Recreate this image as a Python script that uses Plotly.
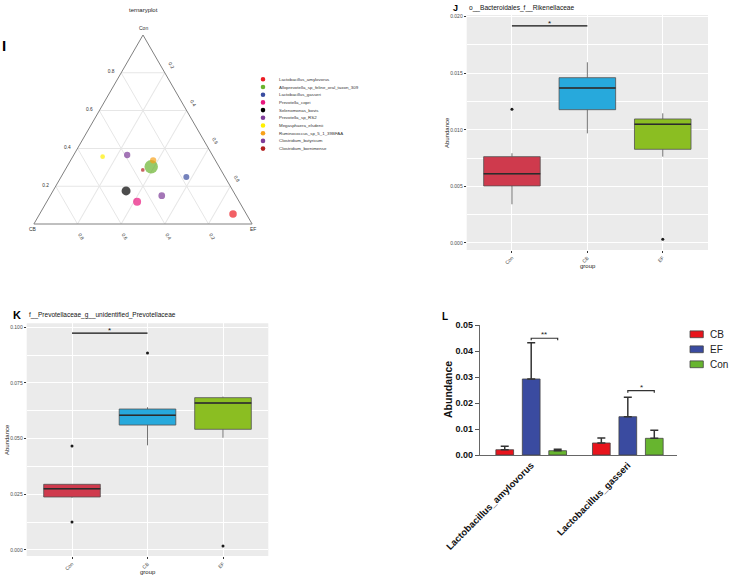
import plotly.graph_objects as go

W, H = 730, 577
def px(x): return x / W
def py(y): return 1 - y / H

FONT = "Liberation Sans, Arial, sans-serif"

# ---------------- Panel I : ternary data ----------------
tern_species = ["Lactobacillus_amylovorus", "Alloprevotella_sp_feline_oral_taxon_309",
                "Lactobacillus_gasseri", "Prevotella_copri", "Selenomonas_bovis",
                "Prevotella_sp_RS2", "Megasphaera_elsdenii", "Ruminococcus_sp_5_1_39BFAA",
                "Clostridium_butyricum", "Clostridium_bornimense"]
tern_con = [0.053, 0.303, 0.249, 0.118, 0.175, 0.365, 0.356, 0.337, 0.150, 0.286]
tern_cb  = [0.061, 0.311, 0.177, 0.468, 0.490, 0.390, 0.507, 0.285, 0.339, 0.358]
tern_ef  = [0.886, 0.386, 0.574, 0.414, 0.335, 0.245, 0.137, 0.378, 0.511, 0.356]
tern_size = [7.5, 13.5, 6, 8, 9, 6.3, 4.7, 6.3, 6.7, 3.7]
tern_colors = ["#EC1C24", "#6AB42D", "#3A4DA0", "#E8177D", "#000000",
               "#7E3C98", "#FFF000", "#F7A11A", "#7E3C98", "#B2201F"]
tern_ticks = [0.2, 0.4, 0.6, 0.8]
tern_vertices = ["Con", "CB", "EF"]

# ---------------- Panel J : Rikenellaceae ----------------
box_groups = ["Con", "CB", "EF"]
box_colors = ["#CF3A4D", "#27A9DC", "#8BBE22"]
j_q1     = [0.00504, 0.01178, 0.00828]
j_median = [0.00612, 0.01370, 0.01049]
j_q3     = [0.00763, 0.01461, 0.01096]
j_low    = [0.00342, 0.00969, 0.00763]
j_high   = [0.00793, 0.01597, 0.01146]
j_out_group = [0, 2]
j_out_val   = [0.01182, 0.00033]
j_sig_level = 0.01918
j_ticks = [0.000, 0.005, 0.010, 0.015, 0.020]

# ---------------- Panel K : Prevotellaceae ----------------
k_q1     = [0.0238, 0.0561, 0.0542]
k_median = [0.02753, 0.0605, 0.0660]
k_q3     = [0.0295, 0.0633, 0.0684]
k_low    = [0.0235, 0.0470, 0.0504]
k_high   = [0.0295, 0.0641, 0.0689]
k_out_group = [0, 0, 1, 2]
k_out_val   = [0.0467, 0.0126, 0.0885, 0.0018]
k_sig_level = 0.0974
k_ticks = [0.000, 0.025, 0.050, 0.075, 0.100]

# ---------------- Panel L : Lactobacillus bars ----------------
l_species = ["Lactobacillus_amylovorus", "Lactobacillus_gasseri"]
l_groups = ["CB", "EF", "Con"]
l_colors = ["#E8141C", "#3A4BA0", "#67B52F"]
l_mean = {"CB": [0.00204, 0.00463], "EF": [0.0293, 0.01477], "Con": [0.00166, 0.00643]}
l_top  = {"CB": [0.00335, 0.00655], "EF": [0.0433, 0.02224], "Con": [0.0022, 0.00951]}
l_sig = [("**", 0.0450), ("*", 0.0248)]
l_ticks = [0.00, 0.01, 0.02, 0.03, 0.04, 0.05]

fig = go.Figure()

# ---- ternary ----
fig.add_trace(go.Scatterternary(
    a=tern_con, b=tern_cb, c=tern_ef, mode="markers",
    marker=dict(size=tern_size, color=tern_colors, line=dict(width=0)),
    text=tern_species, hoverinfo="text", showlegend=False))

tern_axis = dict(tickmode="array", tickvals=tern_ticks, ticktext=[f"{v:.1f}" for v in tern_ticks],
                 tickfont=dict(size=4.8, color="#333", family=FONT), linecolor="#808080",
                 linewidth=1, gridcolor="#E6E6E6", gridwidth=0.6, showgrid=True,
                 ticks="outside", ticklen=5, tickcolor="rgba(0,0,0,0)", min=0,
                 title=dict(text=""))
TX0, TX1, TY_TOP, TY_BOT = 33, 253, 35, 224
fig.update_layout(ternary=dict(
    domain=dict(x=[px(TX0), px(TX1)], y=[py(TY_BOT), py(TY_TOP)]),
    bgcolor="white", sum=1,
    aaxis=dict(tern_axis),
    baxis=dict(tern_axis, tickangle=60),
    caxis=dict(tern_axis, tickangle=60),
))

shapes = []
annotations = []

# vertex labels of the ternary
for name, (vx, vy) in zip(tern_vertices, [((TX0 + TX1) / 2, TY_TOP - 7), (TX0, TY_BOT + 5), (TX1, TY_BOT + 5)]):
    annotations.append(dict(text=name, x=px(vx), y=py(vy), xref="paper", yref="paper",
                            xanchor="center", yanchor="middle", showarrow=False,
                            font=dict(size=5, color="#333", family=FONT)))

# ternary legend (manual, compact)
for i, (name, col) in enumerate(zip(tern_species, tern_colors)):
    yc = 79.3 + i * 7.7
    r = 2.3
    shapes.append(dict(type="circle", xref="paper", yref="paper",
                       x0=px(263 - r), x1=px(263 + r), y0=py(yc + r), y1=py(yc - r),
                       fillcolor=col, line=dict(width=0)))
    annotations.append(dict(text=name, x=px(277), y=py(yc), xref="paper", yref="paper",
                            xanchor="left", yanchor="middle", showarrow=False,
                            font=dict(size=4.4, color="#333", family=FONT)))

annotations.append(dict(text="ternaryplot", x=px(143), y=py(10), xref="paper", yref="paper",
                        xanchor="center", yanchor="middle", showarrow=False,
                        font=dict(size=6, color="#222", family=FONT)))
annotations.append(dict(text="<b>I</b>", x=0, y=py(46), xref="paper", yref="paper",
                        xanchor="left", yanchor="middle", showarrow=False,
                        font=dict(size=15, color="#000", family=FONT)))

# ---- box panels ----
def add_box_panel(xa, ya, q1, med, q3, lo, hi, og, ov, sig_level):
    for i in range(len(box_groups)):
        fig.add_trace(go.Box(x=[i], q1=[q1[i]], median=[med[i]], q3=[q3[i]],
                             lowerfence=[lo[i]], upperfence=[hi[i]], width=0.75,
                             whiskerwidth=0, fillcolor=box_colors[i],
                             line=dict(color="#505050", width=0.8),
                             xaxis=xa, yaxis=ya, hoverinfo="skip", showlegend=False))
        fig.add_trace(go.Scatter(x=[i - 0.375, i + 0.375], y=[med[i], med[i]], mode="lines",
                                 line=dict(color="#2b2b2b", width=1.4),
                                 xaxis=xa, yaxis=ya, hoverinfo="skip", showlegend=False))
    fig.add_trace(go.Scatter(x=og, y=ov, mode="markers",
                             marker=dict(size=3, color="#1a1a1a"),
                             xaxis=xa, yaxis=ya, hoverinfo="skip", showlegend=False))
    fig.add_trace(go.Scatter(x=[0, 1], y=[sig_level, sig_level], mode="lines",
                             line=dict(color="#111", width=1.3),
                             xaxis=xa, yaxis=ya, hoverinfo="skip", showlegend=False))
    annotations.append(dict(text="*", x=0.5, y=sig_level, xref=xa, yref=ya, xanchor="center",
                            yanchor="bottom", yshift=-4, showarrow=False,
                            font=dict(size=8, color="#111", family=FONT)))
    shapes.append(dict(type="rect", xref=f"{xa} domain", yref=f"{ya} domain",
                       x0=0, x1=1, y0=0, y1=1, fillcolor="#EBEBEB", line=dict(width=0),
                       layer="below"))

add_box_panel("x", "y", j_q1, j_median, j_q3, j_low, j_high, j_out_group, j_out_val, j_sig_level)
add_box_panel("x2", "y2", k_q1, k_median, k_q3, k_low, k_high, k_out_group, k_out_val, k_sig_level)

box_xaxis = dict(range=[-0.6, 2.6], tickmode="array", tickvals=[0, 1, 2], ticktext=box_groups,
                 tickangle=-45, ticks="outside", ticklen=2, tickcolor="#333",
                 tickfont=dict(size=5, color="#4D4D4D", family=FONT),
                 showgrid=True, gridcolor="white", gridwidth=1, zeroline=False, showline=False)
def box_yaxis(rng, ticks, minor_dt):
    return dict(range=rng, tickmode="array", tickvals=ticks, ticktext=[f"{v:.3f}" for v in ticks],
                ticks="outside", ticklen=2, tickcolor="#333",
                tickfont=dict(size=5, color="#4D4D4D", family=FONT),
                showgrid=True, gridcolor="white", gridwidth=1, zeroline=False, showline=False,
                minor=dict(dtick=minor_dt, tick0=0, showgrid=True, gridcolor="white",
                           gridwidth=0.5, ticks=""))

fig.update_layout(
    xaxis=dict(box_xaxis, domain=[px(466.7), px(708)], anchor="y"),
    yaxis=dict(box_yaxis([-0.00062, 0.02015], j_ticks, 0.0025), domain=[py(250), py(15)], anchor="x"),
    xaxis2=dict(box_xaxis, domain=[px(26.7), px(268.3)], anchor="y2"),
    yaxis2=dict(box_yaxis([-0.0027, 0.1018], k_ticks, 0.0125), domain=[py(556), py(323.3)], anchor="x2"),
)

# panel titles J / K
annotations += [
    dict(text="<b>J</b>", x=px(451), y=py(7.5), xref="paper", yref="paper", xanchor="left",
         yanchor="middle", showarrow=False, font=dict(size=9, color="#000", family=FONT)),
    dict(text="o__Bacteroidales_f__Rikenellaceae", x=px(466.5), y=py(7.5), xref="paper", yref="paper",
         xanchor="left", yanchor="middle", showarrow=False, font=dict(size=6.6, color="#111", family=FONT)),
    dict(text="Abundance", x=px(446.5), y=py(132.5), xref="paper", yref="paper", textangle=-90,
         xanchor="center", yanchor="middle", showarrow=False, font=dict(size=6, color="#222", family=FONT)),
    dict(text="group", x=px(587.7), y=py(266), xref="paper", yref="paper",
         xanchor="center", yanchor="middle", showarrow=False, font=dict(size=6, color="#222", family=FONT)),
    dict(text="<b>K</b>", x=px(11), y=py(315), xref="paper", yref="paper", xanchor="left",
         yanchor="middle", showarrow=False, font=dict(size=11, color="#000", family=FONT)),
    dict(text="f__Prevotellaceae_g__unidentified_Prevotellaceae", x=px(26.5), y=py(315), xref="paper",
         yref="paper", xanchor="left", yanchor="middle", showarrow=False,
         font=dict(size=6.5, color="#111", family=FONT)),
    dict(text="Abundance", x=px(7), y=py(440), xref="paper", yref="paper", textangle=-90,
         xanchor="center", yanchor="middle", showarrow=False, font=dict(size=6, color="#222", family=FONT)),
    dict(text="group", x=px(148), y=py(572), xref="paper", yref="paper",
         xanchor="center", yanchor="middle", showarrow=False, font=dict(size=6, color="#222", family=FONT)),
]

# ---- L bars ----
bargap, bargroupgap = 0.178, 0.33
for g, col in zip(l_groups, l_colors):
    fig.add_trace(go.Bar(
        x=list(range(len(l_species))), y=l_mean[g], name=g,
        marker=dict(color=col, line=dict(color="#444", width=0.8)),
        error_y=dict(type="data", symmetric=False,
                     array=[t - m for t, m in zip(l_top[g], l_mean[g])],
                     arrayminus=[0] * len(l_species), color="#333", thickness=1.5, width=4),
        xaxis="x3", yaxis="y3", hoverinfo="skip", showlegend=False))

slot = (1 - bargap) / len(l_groups)
for gi, (star, lev) in enumerate(l_sig):
    x0, x1 = gi, gi + slot
    drop = 0.0008
    fig.add_trace(go.Scatter(x=[x0, x0, x1, x1], y=[lev - drop, lev, lev, lev - drop], mode="lines",
                             line=dict(color="#333", width=1.2), xaxis="x3", yaxis="y3",
                             hoverinfo="skip", showlegend=False))
    annotations.append(dict(text=star, x=(x0 + x1) / 2, y=lev, xref="x3", yref="y3",
                            xanchor="center", yanchor="bottom", yshift=-3, showarrow=False,
                            font=dict(size=8, color="#222", family=FONT)))

fig.update_layout(
    barmode="group", bargap=bargap, bargroupgap=bargroupgap,
    xaxis3=dict(domain=[px(480), px(676.7)], anchor="y3", range=[-0.53, 1.506],
                tickmode="array", tickvals=[0, 1], ticktext=l_species, tickangle=-45,
                ticks="", showline=True, linecolor="#666", linewidth=1.2, showgrid=False,
                zeroline=False, tickfont=dict(size=9.5, color="#111", family=FONT, weight="bold")),
    yaxis3=dict(domain=[py(455), py(325.3)], anchor="x3", range=[0, 0.05],
                tickmode="array", tickvals=l_ticks, ticktext=[f"{v:.2f}" for v in l_ticks],
                ticks="outside", ticklen=4, tickwidth=1, tickcolor="#555",
                showline=True, linecolor="#666", linewidth=1.2, showgrid=False, zeroline=False,
                tickfont=dict(size=9, color="#111", family=FONT, weight="bold")),
)

annotations += [
    dict(text="<b>L</b>", x=px(440), y=py(316), xref="paper", yref="paper", xanchor="left",
         yanchor="middle", showarrow=False, font=dict(size=10, color="#000", family=FONT)),
    dict(text="<b>Abundance</b>", x=px(448), y=py(390), xref="paper", yref="paper", textangle=-90,
         xanchor="center", yanchor="middle", showarrow=False, font=dict(size=10.5, color="#111", family=FONT)),
]
for i, (g, col) in enumerate(zip(l_groups, l_colors)):
    yc = 334.3 + i * 15
    shapes.append(dict(type="rect", xref="paper", yref="paper", x0=px(690), x1=px(703.3),
                       y0=py(yc + 3.4), y1=py(yc - 3.4), fillcolor=col, line=dict(color="#444", width=0.8)))
    annotations.append(dict(text=g, x=px(707.5), y=py(yc), xref="paper", yref="paper",
                            xanchor="left", yanchor="middle", showarrow=False,
                            font=dict(size=10, color="#222", family=FONT)))

fig.update_layout(width=W, height=H,
                  margin=dict(l=0, r=0, t=0, b=0, pad=0, autoexpand=False),
                  paper_bgcolor="white", plot_bgcolor="white", showlegend=False,
                  hovermode=False,
                  font=dict(family=FONT), shapes=shapes, annotations=annotations)

fig.write_html("out.html", config={"displayModeBar": False},
               post_script="document.body.style.margin='0';document.body.style.overflow='hidden';")
